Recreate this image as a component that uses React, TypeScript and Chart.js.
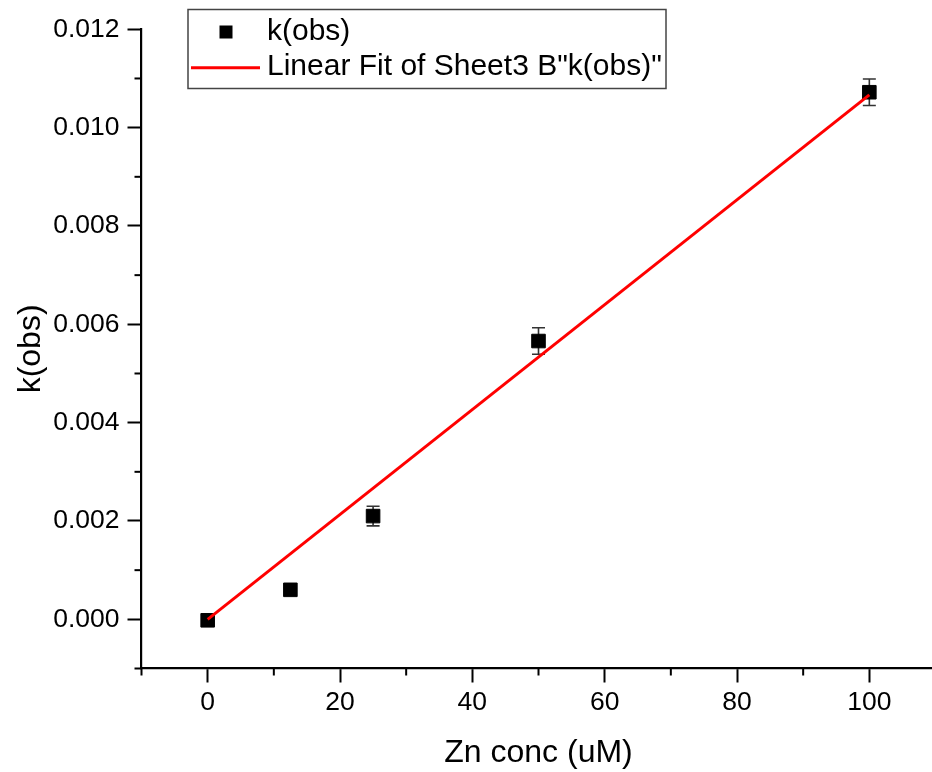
import React, { useEffect, useRef } from "react";
import { Chart, registerables } from "chart.js";

Chart.register(...registerables);

// ---- data ----
const znConc = [0, 12.5, 25, 50, 100];
const kObs = [-0.00002, 0.0006, 0.0021, 0.00566, 0.01072];
const kObsErr = [0.00003, 0.00004, 0.0002, 0.00027, 0.00027];
const fitX = [0, 100];
const fitY = [0.0, 0.010665];
const seriesLabel = "k(obs)";
const fitLabel = 'Linear Fit of Sheet3 B"k(obs)"';
const xTitle = "Zn conc (uM)";
const yTitle = "k(obs)";

const FONT = "'Liberation Sans', Arial, Helvetica, sans-serif";

const errorBarPlugin = {
  id: "errorBars",
  beforeDatasetsDraw(chart: any) {
    const { ctx, scales } = chart;
    const xs = scales.x;
    const ys = scales.y;
    ctx.save();
    ctx.strokeStyle = "#333333";
    ctx.lineWidth = 1.6;
    const cap = 6.5;
    znConc.forEach((xv, i) => {
      const px = xs.getPixelForValue(xv);
      const top = ys.getPixelForValue(kObs[i] + kObsErr[i]);
      const bot = ys.getPixelForValue(kObs[i] - kObsErr[i]);
      ctx.beginPath();
      ctx.moveTo(px, top);
      ctx.lineTo(px, bot);
      ctx.moveTo(px - cap, top);
      ctx.lineTo(px + cap, top);
      ctx.moveTo(px - cap, bot);
      ctx.lineTo(px + cap, bot);
      ctx.stroke();
    });
    ctx.restore();
  },
};

const minorTickPlugin = {
  id: "minorTicks",
  afterDraw(chart: any) {
    const { ctx, scales, chartArea } = chart;
    ctx.save();
    ctx.strokeStyle = "#000";
    ctx.lineWidth = 2;
    const len = 7;
    scales.x.ticks.forEach((t: any) => {
      if (Math.round(t.value) % 20 !== 0) {
        const px = scales.x.getPixelForValue(t.value);
        ctx.beginPath();
        ctx.moveTo(px, chartArea.bottom);
        ctx.lineTo(px, chartArea.bottom + len);
        ctx.stroke();
      }
    });
    scales.y.ticks.forEach((t: any) => {
      if (Math.round(t.value * 1000) % 2 !== 0) {
        const py = scales.y.getPixelForValue(t.value);
        ctx.beginPath();
        ctx.moveTo(chartArea.left, py);
        ctx.lineTo(chartArea.left - len, py);
        ctx.stroke();
      }
    });
    ctx.restore();
  },
};

const legendPlugin = {
  id: "customLegend",
  afterDraw(chart: any) {
    const { ctx } = chart;
    ctx.save();
    const x0 = 188, y0 = 9.5, w = 478, h = 79;
    ctx.fillStyle = "#fff";
    ctx.fillRect(x0, y0, w, h);
    ctx.strokeStyle = "#444";
    ctx.lineWidth = 1.5;
    ctx.strokeRect(x0, y0, w, h);
    ctx.fillStyle = "#000";
    ctx.fillRect(226 - 6.5, 32 - 6.5, 13, 13);
    ctx.strokeStyle = "#ff0000";
    ctx.lineWidth = 3;
    ctx.beginPath();
    ctx.moveTo(191, 67.7);
    ctx.lineTo(260, 67.7);
    ctx.stroke();
    ctx.fillStyle = "#000";
    ctx.font = `30px ${FONT}`;
    ctx.textBaseline = "middle";
    ctx.textAlign = "left";
    ctx.fillText(seriesLabel, 267, 32);
    ctx.fillText(fitLabel, 267, 67);
    ctx.restore();
  },
};

export default function App() {
  const ref = useRef<HTMLCanvasElement>(null);
  useEffect(() => {
    if (!ref.current) return;
    const chart = new Chart(ref.current, {
      type: "scatter",
      data: {
        datasets: [
          {
            type: "line",
            label: fitLabel,
            data: fitX.map((x, i) => ({ x, y: fitY[i] })),
            borderColor: "#ff0000",
            borderWidth: 3,
            pointRadius: 0,
            fill: false,
            order: 0,
          } as any,
          {
            label: seriesLabel,
            data: znConc.map((x, i) => ({ x, y: kObs[i] })),
            pointStyle: "rect",
            pointRadius: 9.6,
            backgroundColor: "#000",
            borderColor: "#000",
            borderWidth: 1,
            order: 1,
          },
        ],
      },
      options: {
        animation: false,
        responsive: false,
        maintainAspectRatio: false,
        layout: { autoPadding: false, padding: { left: 0, top: 29.3, right: 0.5, bottom: 0 } },
        plugins: { legend: { display: false }, tooltip: { enabled: false } },
        scales: {
          x: {
            type: "linear",
            min: -10,
            max: 110,
            afterFit: (s: any) => {
              s.height = 772 - 668.5;
              s.paddingLeft = 0;
              s.paddingRight = 0;
            },
            border: { display: true, color: "#000", width: 2.2 },
            grid: {
              drawOnChartArea: false,
              drawTicks: true,
              tickLength: 14,
              tickWidth: 2,
              tickColor: (c: any) =>
                c.tick && Math.round(c.tick.value) % 20 === 0 ? "#000" : "rgba(0,0,0,0)",
            },
            ticks: {
              stepSize: 10,
              autoSkip: false,
              maxRotation: 0,
              color: "#000",
              padding: 4,
              font: { family: FONT, size: 26.5 },
              callback: (v: any) => (Math.round(v) % 20 === 0 ? String(Math.round(v)) : ""),
            },
            title: {
              display: true,
              text: xTitle,
              color: "#000",
              font: { family: FONT, size: 32 },
              padding: { top: 0, bottom: 0 },
            },
          },
          y: {
            type: "linear",
            min: -0.001,
            max: 0.012,
            afterFit: (s: any) => {
              s.width = 141.5;
              s.paddingTop = 0;
              s.paddingBottom = 0;
            },
            border: { display: true, color: "#000", width: 2.2 },
            grid: {
              drawOnChartArea: false,
              drawTicks: true,
              tickLength: 14,
              tickWidth: 2,
              tickColor: (c: any) =>
                c.tick && Math.round(c.tick.value * 1000) % 2 === 0 ? "#000" : "rgba(0,0,0,0)",
            },
            ticks: {
              stepSize: 0.001,
              autoSkip: false,
              color: "#000",
              padding: 8,
              font: { family: FONT, size: 26.5 },
              callback: (v: any) =>
                Math.round(v * 1000) % 2 === 0 ? (Math.round(v * 1000) / 1000).toFixed(3) : "",
            },
            title: {
              display: true,
              text: yTitle,
              color: "#000",
              font: { family: FONT, size: 32 },
              padding: { top: 12, bottom: 0 },
            },
          },
        },
      },
      plugins: [errorBarPlugin, minorTickPlugin, legendPlugin],
    });
    return () => chart.destroy();
  }, []);
  return (
    <div
      style={{
        position: "fixed",
        left: 0,
        top: 0,
        width: 932,
        height: 772,
        overflow: "hidden",
        background: "#fff",
      }}
    >
      <canvas ref={ref} width={936} height={772} style={{ display: "block", width: 936, height: 772 }} />
    </div>
  );
}
